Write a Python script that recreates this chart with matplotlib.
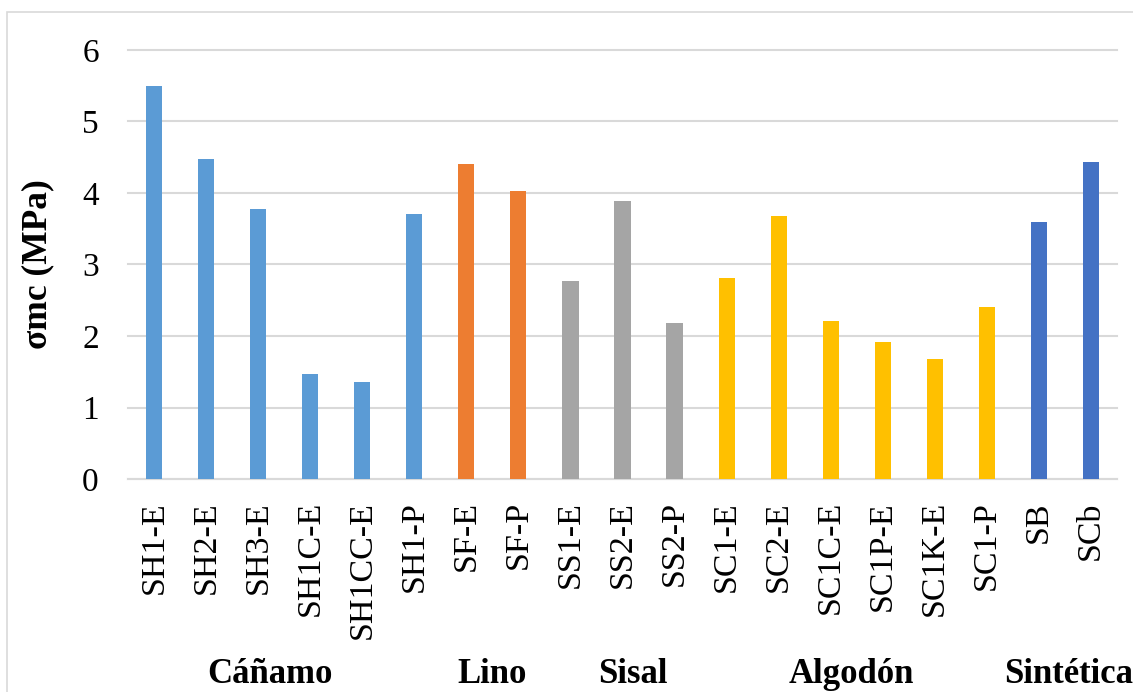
import matplotlib
matplotlib.use("Agg")
import matplotlib.pyplot as plt
from matplotlib.patches import Rectangle
from matplotlib.transforms import blended_transform_factory

plt.rcParams['font.family'] = ['Liberation Serif', 'DejaVu Serif']

# Specimen codes and mean compressive strength (MPa)
specimens = ["SH1-E", "SH2-E", "SH3-E", "SH1C-E", "SH1CC-E", "SH1-P",
             "SF-E", "SF-P",
             "SS1-E", "SS2-E", "SS2-P",
             "SC1-E", "SC2-E", "SC1C-E", "SC1P-E", "SC1K-E", "SC1-P",
             "SB", "SCb"]
sigma_mc = [5.50, 4.47, 3.78, 1.47, 1.35, 3.70,
            4.40, 4.03,
            2.77, 3.89, 2.18,
            2.81, 3.68, 2.21, 1.91, 1.68, 2.41,
            3.59, 4.43]
fibre = ["Cáñamo"] * 6 + ["Lino"] * 2 + ["Sisal"] * 3 + ["Algodón"] * 6 + ["Sintética"] * 2
groups = ["Cáñamo", "Lino", "Sisal", "Algodón", "Sintética"]
y_ticks = [0, 1, 2, 3, 4, 5, 6]

group_colors = {"Cáñamo": "#5B9BD5", "Lino": "#ED7D31", "Sisal": "#A5A5A5",
                "Algodón": "#FFC000", "Sintética": "#4472C4"}
# horizontal placement of the group captions (in bar-index units)
group_label_x = {"Cáñamo": 2.22, "Lino": 6.5, "Sisal": 9.2,
                 "Algodón": 13.4, "Sintética": 16.33}
group_label_ha = {"Cáñamo": "center", "Lino": "center", "Sisal": "center",
                  "Algodón": "center", "Sintética": "left"}

W, H = 1133, 692
fig = plt.figure(figsize=(W / 100, H / 100), dpi=100)
fig.patch.set_facecolor("white")

# light frame around the chart area
fig.patches.append(Rectangle((7 / W, -0.05), 1.2, 1 - 12 / H + 0.05,
                             transform=fig.transFigure, fill=False,
                             edgecolor="#D9D9D9", linewidth=1.2))

ax = fig.add_axes([128 / W, (H - 479) / H, (1117 - 128) / W, (479 - 50) / H])

x = list(range(len(specimens)))
colors = [group_colors[f] for f in fibre]
ax.bar(x, sigma_mc, width=0.31, color=colors, zorder=3)

ax.set_xlim(-0.5, len(specimens) - 0.5)
ax.set_ylim(0, 6)
ax.set_yticks(y_ticks)
ax.set_yticklabels([str(v) for v in y_ticks], fontsize=24)
ax.set_xticks(x)
ax.set_xticklabels(specimens, rotation=90, fontsize=24.5, va="top")
ax.tick_params(axis="x", length=0, pad=16)
ax.tick_params(axis="y", length=0, pad=21)

ax.grid(axis="y", color="#D9D9D9", linewidth=1.5, zorder=0)
for s in ["top", "right", "left"]:
    ax.spines[s].set_visible(False)
ax.spines["bottom"].set_color("#D9D9D9")
ax.spines["bottom"].set_linewidth(1.5)
for gl in ax.get_ygridlines():
    gl.set_clip_on(False)

ax.set_ylabel("σmc (MPa)", fontsize=25.5, fontweight="bold")
ax.yaxis.set_label_coords(-74 / (1117 - 128), (479 - 264) / (479 - 50))

trans = blended_transform_factory(ax.transData, fig.transFigure)
for g in groups:
    ax.text(group_label_x[g], (H - 683) / H, g, transform=trans,
            ha=group_label_ha[g], va="baseline", fontsize=25,
            fontweight="bold", clip_on=False)

fig.savefig("out.png", dpi=100, facecolor="white")
